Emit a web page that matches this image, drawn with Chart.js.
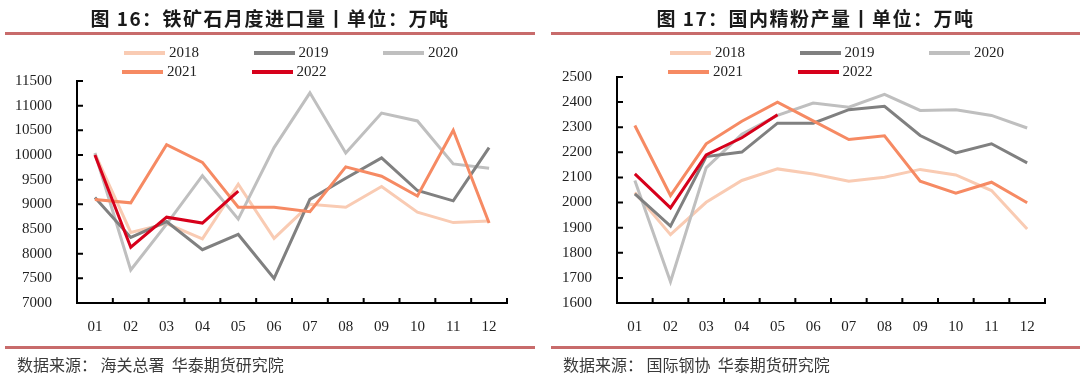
<!DOCTYPE html>
<html>
<head>
<meta charset="utf-8">
<script src="https://cdn.jsdelivr.net/npm/chart.js@4"></script>
<style>
  body { margin: 0; background: #fff; }
  #page { position: relative; width: 1080px; height: 379px; overflow: hidden; }
  canvas { position: absolute; top: 0; }
  .title { position: absolute; top: 4px; font: bold 19px "Noto Sans CJK SC"; letter-spacing: 1.5px; color: #1a1a1a; text-align: center; white-space: pre; }
  .rule { position: absolute; height: 3px; background: #c86b6b; }
  .src { position: absolute; top: 353px; font: 16px "Noto Sans CJK SC"; line-height: 22px; color: #3a3a3a; white-space: pre; }
  .leg { position: absolute; display: flex; align-items: center; font: 15px "Liberation Serif"; color: #222; white-space: nowrap; }
  .leg i { display: inline-block; width: 41px; height: 4px; margin-right: 4px; }
</style>
</head>
<body>
<div id="page">
  <canvas id="oreChart" width="540" height="379" style="left:0"></canvas>
  <canvas id="finesChart" width="540" height="379" style="left:540px"></canvas>
</div>
<script>
// 数据
const months = ['01', '02', '03', '04', '05', '06', '07', '08', '09', '10', '11', '12'];
const years = ['2018', '2019', '2020', '2021', '2022'];
const colors = ['#f9cbb3', '#808080', '#bfbfbf', '#f68a63', '#d7001b'];

// 图16 铁矿石月度进口量
const ore2018 = [10030, 8430, 8610, 8300, 9410, 8310, 9000, 8940, 9360, 8840, 8630, 8660];
const ore2019 = [9140, 8330, 8650, 8080, 8390, 7500, 9100, 9530, 9940, 9280, 9070, 10150];
const ore2020 = [10040, 7670, 8600, 9580, 8700, 10150, 11260, 10040, 10850, 10690, 9820, 9730];
const ore2021 = [9100, 9030, 10210, 9850, 8940, 8940, 8850, 9760, 9570, 9170, 10500, 8620];
const ore2022 = [10000, 8130, 8740, 8620, 9270];

// 图17 国内精粉产量
const fines2018 = [2040, 1872, 2001, 2088, 2134, 2114, 2085, 2101, 2132, 2110, 2048, 1895];
const fines2019 = [2035, 1906, 2183, 2201, 2316, 2316, 2370, 2383, 2267, 2198, 2234, 2158];
const fines2020 = [2088, 1685, 2138, 2272, 2347, 2396, 2380, 2431, 2367, 2370, 2347, 2297];
const fines2021 = [2307, 2028, 2234, 2324, 2400, 2325, 2251, 2266, 2085, 2037, 2081, 1999];
const fines2022 = [2114, 1979, 2190, 2258, 2350];

// draw order: 2022 on top, 2018 at the bottom
const drawOrder = [4, 2, 3, 1, 0];

const page = document.getElementById('page');

const addDiv = (cls, style, text) => {
  const d = document.createElement('div');
  d.className = cls;
  Object.assign(d.style, style);
  if (text) d.textContent = text;
  page.appendChild(d);
  return d;
};

// small inward ticks + axis lines
const innerTicks = {
  id: 'innerTicks',
  afterDraw(chart) {
    const { ctx, chartArea: a, scales: { x, y } } = chart;
    ctx.save();
    ctx.strokeStyle = '#000';
    ctx.lineWidth = 2;
    ctx.beginPath();
    ctx.moveTo(a.left, a.top - 1);
    ctx.lineTo(a.left, a.bottom);
    ctx.lineTo(a.right + 1, a.bottom);
    y.ticks.forEach((t, i) => {
      const py = y.getPixelForTick(i);
      ctx.moveTo(a.left, py);
      ctx.lineTo(a.left + 6, py);
    });
    for (let i = 0; i < months.length; i++) {
      const px = x.getPixelForValue(i + 0.5);
      ctx.moveTo(px, a.bottom);
      ctx.lineTo(px, a.bottom - 5);
    }
    ctx.stroke();
    ctx.restore();
  },
};

const makeChart = (id, seriesList, min, max, step, yWidth, top, right) => {
  const datasets = seriesList.map((s, i) => ({
    label: years[i],
    data: s,
    borderColor: colors[i],
    backgroundColor: colors[i],
    borderWidth: 3,
    pointRadius: 0,
    tension: 0,
    order: drawOrder[i],
  }));
  return new Chart(document.getElementById(id), {
    type: 'line',
    data: { labels: months, datasets: datasets },
    plugins: [innerTicks],
    options: {
      responsive: false,
      animation: false,
      layout: { padding: { top: top, right: right, left: 0, bottom: 0 } },
      plugins: { legend: { display: false }, title: { display: false }, tooltip: { enabled: false } },
      scales: {
        x: {
          offset: true,
          grid: { display: false },
          border: { display: false },
          ticks: { color: '#222', font: { family: 'Liberation Serif', size: 15 }, padding: 7, maxRotation: 0 },
          afterFit: (s) => { s.height = 379 - 303; },
        },
        y: {
          min: min,
          max: max,
          grid: { display: false },
          border: { display: false },
          ticks: {
            stepSize: step,
            color: '#222',
            font: { family: 'Liberation Serif', size: 15 },
            padding: 17,
            callback: (v) => String(v),
          },
          afterFit: (s) => { s.width = yWidth; },
        },
      },
    },
  });
};

makeChart('oreChart', [ore2018, ore2019, ore2020, ore2021, ore2022], 7000, 11500, 500, 77, 81, 33);
makeChart('finesChart', [fines2018, fines2019, fines2020, fines2021, fines2022], 1600, 2500, 100, 77, 77, 35);

// titles, rules, legends, sources
const panels = [
  { left: 5, right: 535, title: '图 16：铁矿石月度进口量丨单位：万吨', src: '数据来源： 海关总署  华泰期货研究院', legX: 122 },
  { left: 551, right: 1080, title: '图 17：国内精粉产量丨单位：万吨', src: '数据来源： 国际钢协  华泰期货研究院', legX: 668 },
];

panels.forEach((p) => {
  addDiv('title', { left: p.left + 'px', width: (p.right - p.left) + 'px' }, p.title);
  addDiv('rule', { left: p.left + 'px', width: (p.right - p.left) + 'px', top: '32px' });
  addDiv('rule', { left: p.left + 'px', width: (p.right - p.left) + 'px', top: '346px' });
  addDiv('src', { left: (p.left + 12) + 'px' }, p.src);
  years.forEach((yr, i) => {
    const row = Math.floor(i / 3);
    const col = i % 3;
    const d = addDiv('leg', { left: (p.legX + col * 129.5 + (row === 0 ? 2 : 0)) + 'px', top: (row === 0 ? 44 : 63) + 'px' });
    const line = document.createElement('i');
    line.style.background = colors[i];
    d.appendChild(line);
    d.appendChild(document.createTextNode(yr));
  });
});
</script>
</body>
</html>
